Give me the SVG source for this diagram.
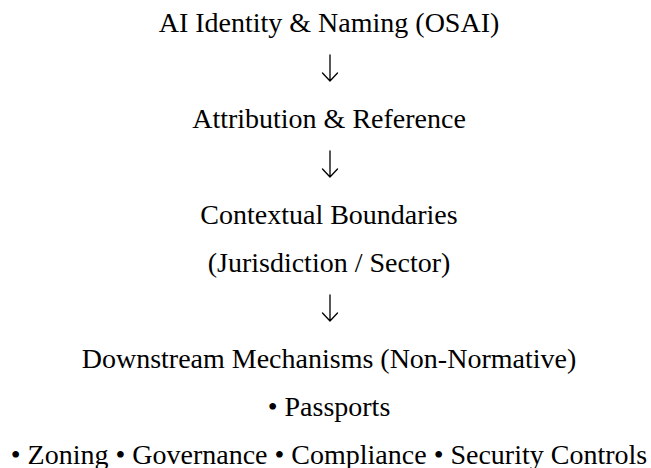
<svg xmlns="http://www.w3.org/2000/svg" width="651" height="468" viewBox="0 0 651 468">
  <style>
    text { font-family: 'Liberation Serif', 'Times New Roman', serif; font-size: 28px; fill: #000000; text-anchor: middle; }
    .arrow { fill: none; stroke: #000000; stroke-width: 1.3; stroke-linecap: round; stroke-linejoin: miter; }
  </style>
  <defs>
    <!-- down arrow: shaft with an open V head, tip at (0,0) -->
    <path id="down" class="arrow" d="M0,-26 V0 M-7.5,-8 L0,0 L7.5,-8"/>
  </defs>
  <rect width="651" height="468" fill="#ffffff"/>
  <g id="identity"><text x="329" y="32">AI Identity &amp; Naming (OSAI)</text></g>
  <g id="attribution"><text x="329" y="128">Attribution &amp; Reference</text></g>
  <g id="boundaries">
    <text x="329" y="224">Contextual Boundaries</text>
    <text x="329" y="272">(Jurisdiction / Sector)</text>
  </g>
  <g id="downstream">
    <text x="329" y="368">Downstream Mechanisms (Non-Normative)</text>
    <text x="329" y="416">• Passports</text>
    <text x="329" y="464">• Zoning • Governance • Compliance • Security Controls</text>
  </g>
  <g id="connectors">
    <use href="#down" x="330" y="81"/>
    <use href="#down" x="330" y="177"/>
    <use href="#down" x="330" y="321"/>
  </g>
</svg>
